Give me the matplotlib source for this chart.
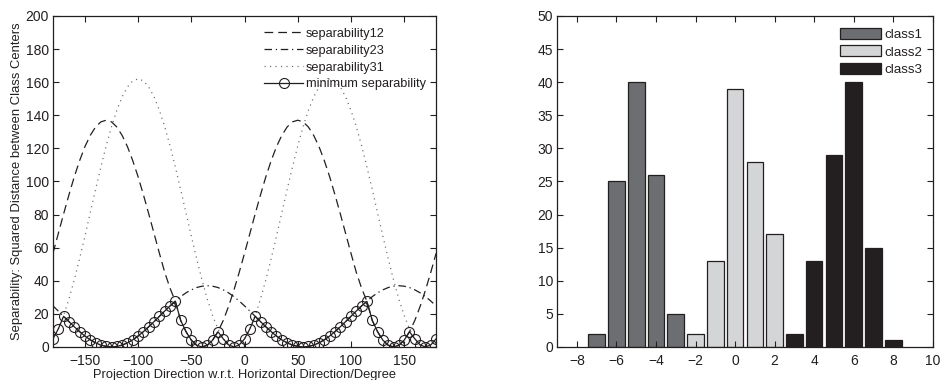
import numpy as np
import matplotlib
matplotlib.use("Agg")
import matplotlib.pyplot as plt

plt.rcParams['font.family'] = ['Liberation Sans', 'DejaVu Sans']
plt.rcParams['text.color'] = '#231f20'
plt.rcParams['axes.labelcolor'] = '#231f20'
plt.rcParams['xtick.color'] = '#231f20'
plt.rcParams['ytick.color'] = '#231f20'

# ---------------- data: left panel ----------------
angles = list(range(-180, 185, 5))

_s12_half = [56.6, 68.5, 80.4, 91.9, 102.8, 112.5, 121.0, 127.8, 132.9, 136.0,
             137.0, 136.0, 132.9, 127.8, 121.0, 112.5, 102.8, 91.9, 80.4, 68.5,
             56.6, 45.1, 35.5, 27.5, 16.0, 9.2, 4.1, 1.0, 0.0, 1.0,
             4.1, 9.2, 16.0, 24.5, 34.3, 45.1]
separability12 = _s12_half + _s12_half + [56.6]

_s23_half = [24.8, 21.7, 18.5, 15.3, 12.2, 9.25, 6.6, 4.3, 2.5, 1.1,
             0.3, 0.0, 0.3, 1.1, 2.5, 4.3, 6.6, 9.25, 12.2, 15.3,
             18.5, 21.7, 24.8, 27.75, 30.4, 32.7, 34.5, 35.9, 36.7, 37.0,
             36.7, 35.9, 34.5, 32.7, 30.4, 27.75]
separability23 = _s23_half + _s23_half + [24.8]

_s31_half = [4.9, 10.9, 19.0, 28.9, 40.5, 53.3, 66.9, 81.0, 95.1, 108.7,
             121.5, 133.1, 143.0, 151.1, 157.1, 160.8, 162.0, 160.8, 157.1, 151.1,
             143.0, 133.1, 121.5, 108.7, 95.1, 81.0, 66.9, 53.3, 40.5, 28.9,
             19.0, 10.9, 4.9, 1.2, 0.0, 1.2]
separability31 = _s31_half + _s31_half + [4.9]

min_separability = [4.9, 10.9, 18.5, 15.3, 12.2, 9.25, 6.6, 4.3, 2.5, 1.1,
                    0.3, 0.0, 0.3, 1.1, 2.5, 4.3, 6.6, 9.25, 12.2, 15.3,
                    18.5, 21.7, 24.8, 27.5, 16.0, 9.2, 4.1, 1.0, 0.0, 1.0,
                    4.1, 9.2, 4.9, 1.2, 0.0, 1.2,
                    4.9, 10.9, 18.5, 15.3, 12.2, 9.25, 6.6, 4.3, 2.5, 1.1,
                    0.3, 0.0, 0.3, 1.1, 2.5, 4.3, 6.6, 9.25, 12.2, 15.3,
                    18.5, 21.7, 24.8, 27.5, 16.0, 9.2, 4.1, 1.0, 0.0, 1.0,
                    4.1, 9.2, 4.9, 1.2, 0.0, 1.2, 4.9]

# ---------------- data: right panel ----------------
class1_x = [-7, -6, -5, -4, -3]
class1_counts = [2, 25, 40, 26, 5]
class2_x = [-2, -1, 0, 1, 2]
class2_counts = [2, 13, 39, 28, 17]
class3_x = [3, 4, 5, 6, 7, 8]
class3_counts = [2, 13, 29, 40, 15, 1]

fig = plt.figure(figsize=(9.46, 3.80), dpi=100)
ink = '#231f20'

def style_axes(ax):
    for s in ax.spines.values():
        s.set_linewidth(0.9)
        s.set_color(ink)
    ax.tick_params(direction='in', top=True, right=True, length=4, width=0.8,
                   labelsize=10)
    ax.tick_params(axis='x', pad=5)
    ax.tick_params(axis='y', pad=3)

# ---------------- left panel ----------------
ax1 = fig.add_axes([0.056, 0.087, 0.405, 0.871])
ax1.plot(angles, separability12, color=ink, lw=0.9, linestyle=(0, (7, 4)),
         label='separability12')
ax1.plot(angles, separability23, color=ink, lw=0.9, linestyle=(0, (6, 3, 1, 3)),
         label='separability23')
ax1.plot(angles, separability31, color='#6a6a6a', lw=0.9, linestyle=(0, (0.9, 3.5)),
         label='separability31')
ax1.plot(angles, min_separability, color=ink, lw=0.9, marker='o', markersize=7.2,
         markerfacecolor='none', markeredgecolor=ink, markeredgewidth=0.8,
         label='minimum separability')
ax1.set_xlim(-180, 180)
ax1.set_ylim(0, 200)
ax1.set_xticks([-150, -100, -50, 0, 50, 100, 150])
ax1.set_yticks(range(0, 201, 20))
style_axes(ax1)
ax1.set_xlabel('Projection Direction w.r.t. Horizontal Direction/Degree',
               fontsize=9.3, labelpad=1)
ax1.set_ylabel('Separability: Squared Distance between Class Centers',
               fontsize=9.4, labelpad=2)
ax1.legend(loc='upper right', frameon=False, fontsize=9.2, handlelength=3.1,
           handletextpad=0.2, labelspacing=0.38, borderaxespad=0.4,
           bbox_to_anchor=(1.0, 0.995))

# ---------------- right panel ----------------
ax2 = fig.add_axes([0.589, 0.087, 0.397, 0.871])
w = 0.84
ax2.bar(class1_x, class1_counts, width=w, color='#6d6e71', edgecolor=ink,
        linewidth=0.9, label='class1')
ax2.bar(class2_x, class2_counts, width=w, color='#d4d5d7', edgecolor=ink,
        linewidth=0.9, label='class2')
ax2.bar(class3_x, class3_counts, width=w, color=ink, edgecolor=ink,
        linewidth=0.9, label='class3')
ax2.set_xlim(-9, 10)
ax2.set_ylim(0, 50)
ax2.set_xticks(range(-8, 11, 2))
ax2.set_yticks(range(0, 51, 5))
style_axes(ax2)
ax2.legend(loc='upper right', frameon=False, fontsize=9.6, handlelength=3.1,
           handleheight=0.9, handletextpad=0.2, labelspacing=0.3,
           borderaxespad=0.4, bbox_to_anchor=(1.0, 0.995))

fig.savefig('out.png', dpi=100)
